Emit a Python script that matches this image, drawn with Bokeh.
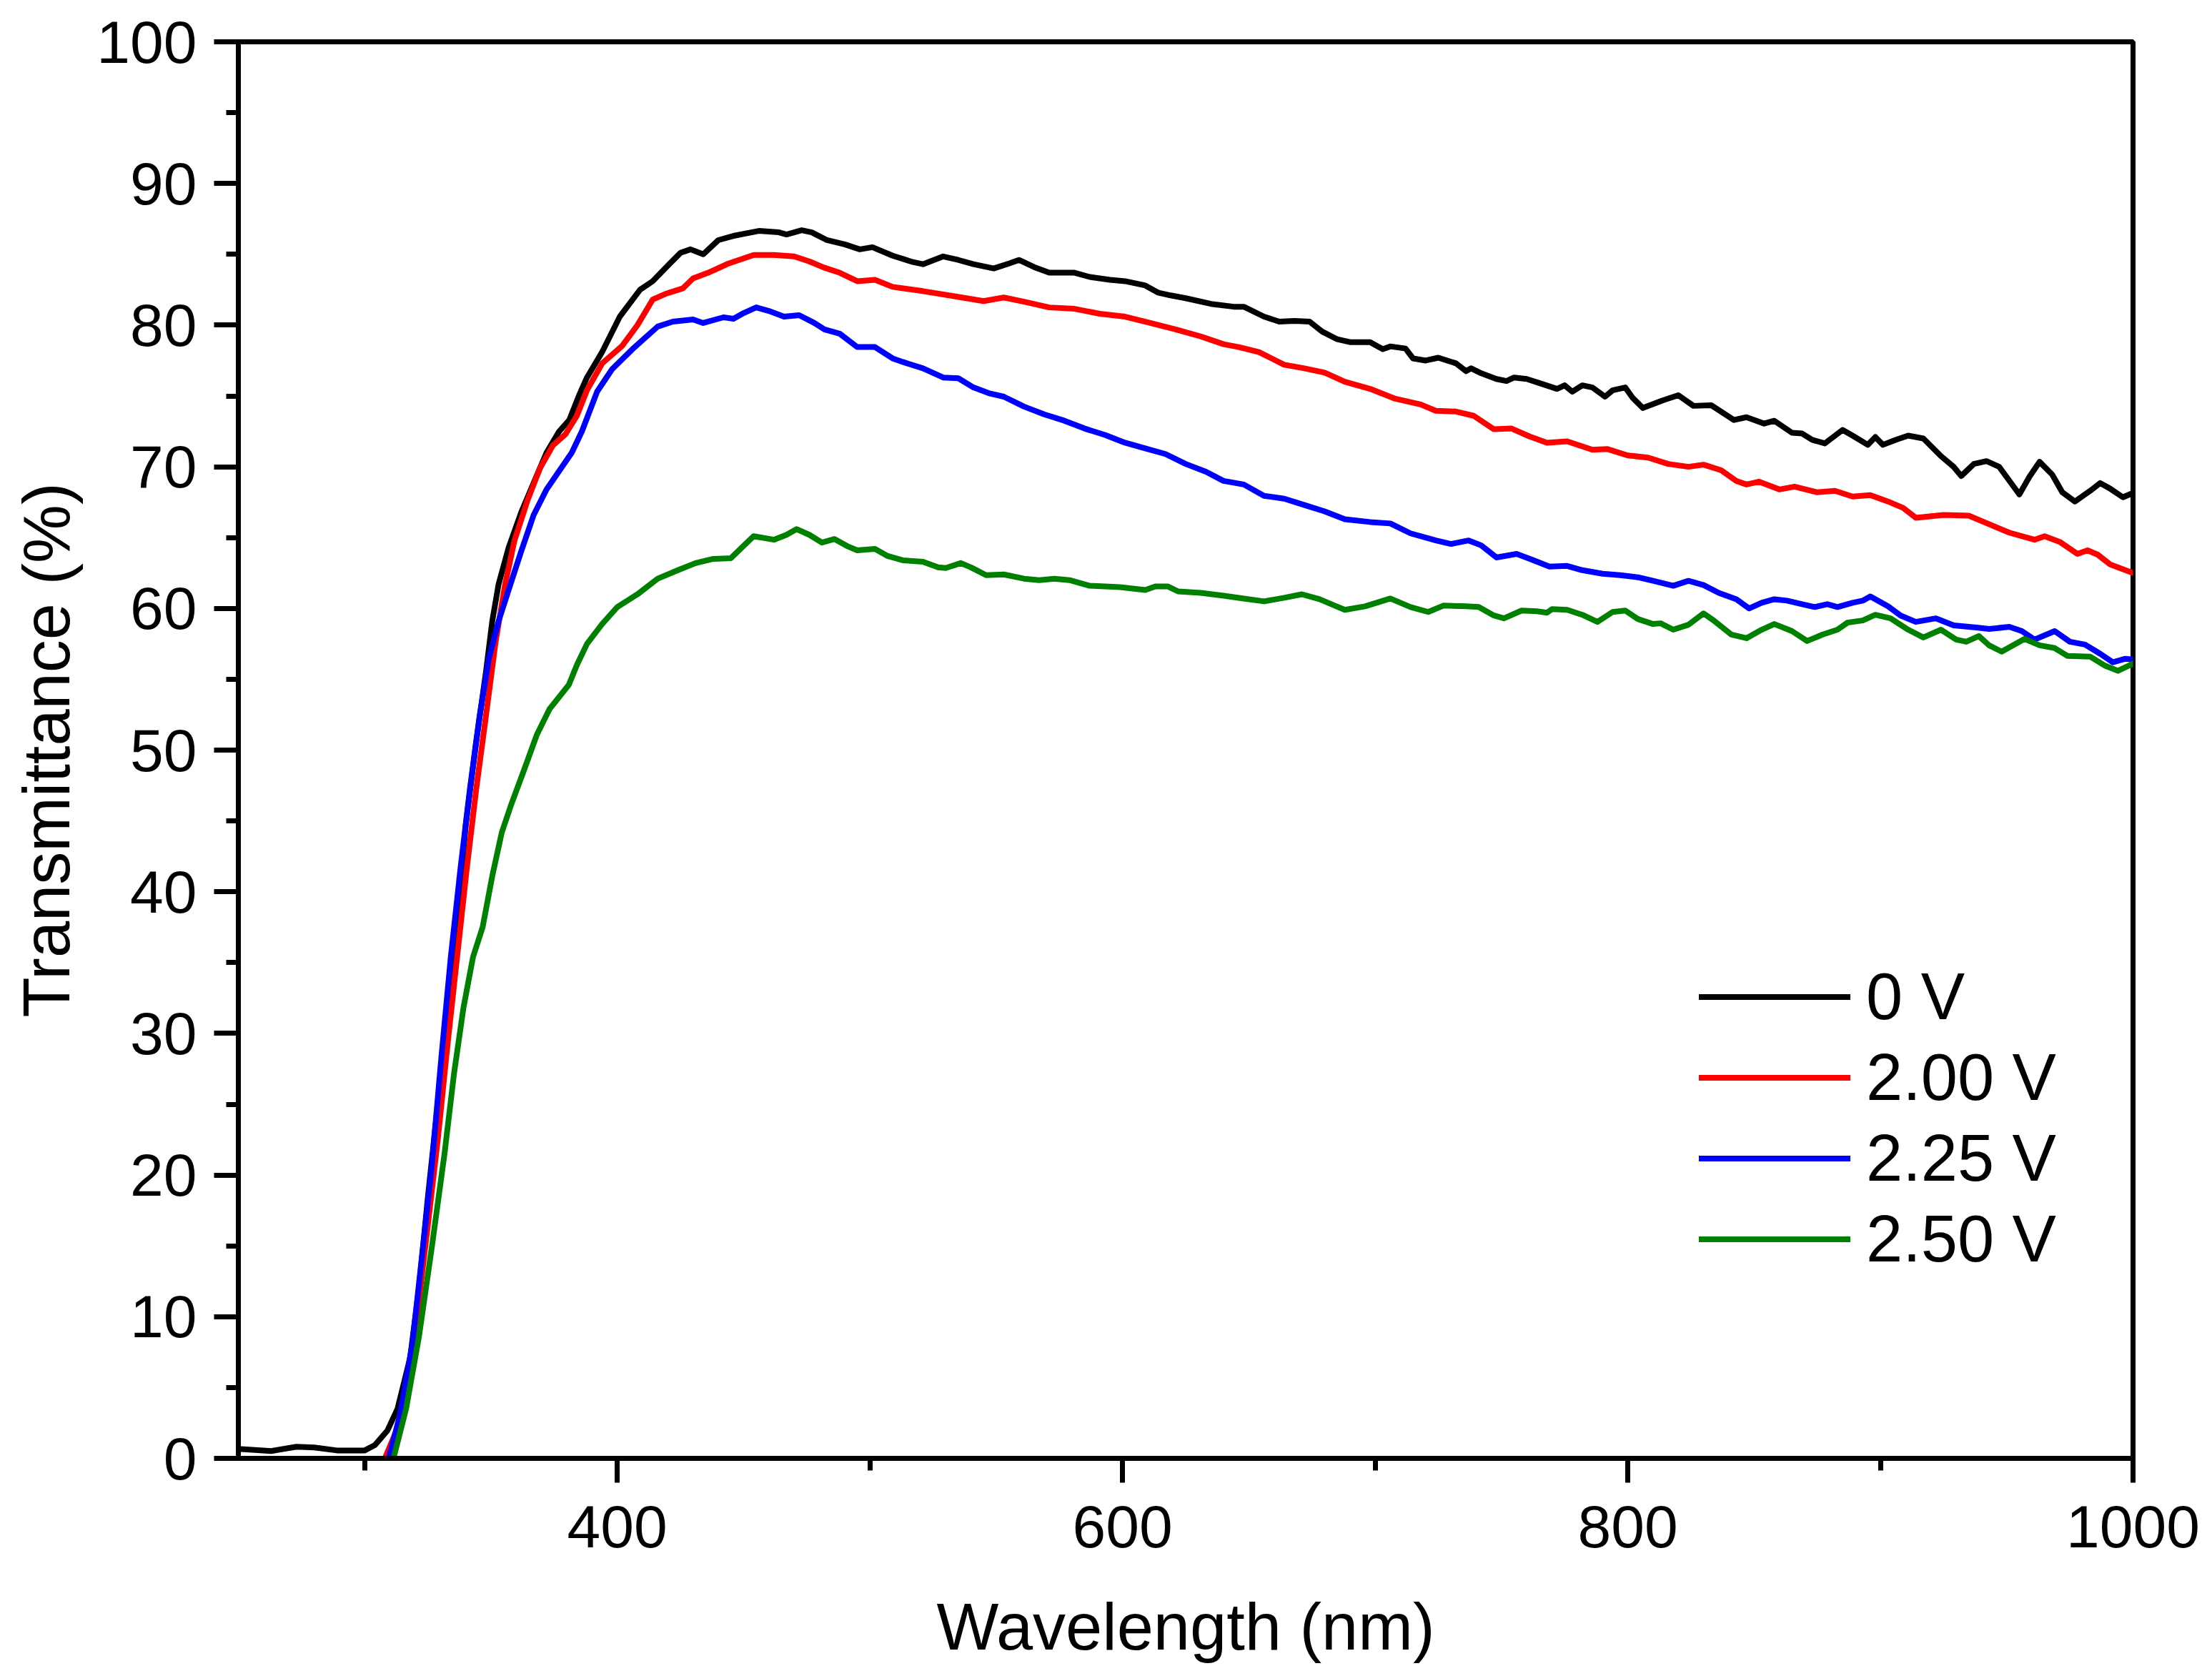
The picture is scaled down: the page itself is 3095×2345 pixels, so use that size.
from bokeh.plotting import figure
from bokeh.models import Range1d, SingleIntervalTicker, Legend, LegendItem, ColumnDataSource
from bokeh.embed import file_html
from bokeh.resources import INLINE

# ---- data (wavelength nm, transmittance %) ----
labels = ["0 V", "2.00 V", "2.25 V", "2.50 V"]
colors = ["#000000", "#FF0000", "#0000FF", "#008000"]

t_0v = [(250, 0.67), (263, 0.52), (273, 0.82), (280, 0.77), (289, 0.56), (300, 0.56), (304, 0.93),
        (309, 1.96), (313, 3.5), (318, 7.1), (321.5, 12.0), (325, 18.4), (329, 25.1), (333, 32.3),
        (337, 38.5), (340, 44.7), (344, 50.4), (348, 55.5), (350.5, 59.1), (353, 61.7), (357, 64.3),
        (362, 66.8), (367, 68.9), (372, 71.0), (377, 72.5), (381, 73.3), (385, 75.1), (388, 76.3),
        (394, 78.1), (401, 80.6), (409, 82.5), (414, 83.1), (420, 84.2), (425, 85.1), (429, 85.35),
        (434, 85.0), (440, 86.0), (446, 86.3), (456, 86.65), (464, 86.55), (467, 86.4), (473, 86.7),
        (477, 86.55), (483, 86.0), (490, 85.7), (496, 85.35), (501, 85.5), (509, 84.9), (517, 84.45),
        (521, 84.3), (529, 84.85), (535, 84.6), (541, 84.3), (549, 84.0), (555, 84.35), (559, 84.6),
        (565, 84.1), (571, 83.7), (581, 83.7), (587, 83.4), (595, 83.2), (601, 83.1), (609, 82.8),
        (614, 82.3), (619, 82.1), (625, 81.9), (635, 81.5), (644, 81.3), (648, 81.3), (656, 80.6),
        (662, 80.25), (668, 80.3), (674, 80.25), (679, 79.55), (685, 79.0), (690, 78.8), (698, 78.8),
        (703, 78.3), (706, 78.5), (712, 78.35), (715, 77.65), (720, 77.5), (725, 77.7), (732, 77.3),
        (736, 76.75), (738, 76.95), (742, 76.6), (748, 76.2), (752, 76.05), (755, 76.3), (760, 76.2),
        (766, 75.85), (772, 75.5), (775, 75.75), (778, 75.3), (782, 75.75), (786, 75.6), (791, 74.95),
        (794, 75.4), (799, 75.6), (802, 74.85), (806, 74.15), (814, 74.7), (820, 75.05), (826, 74.3),
        (833, 74.35), (842, 73.3), (847, 73.5), (854, 73.05), (858, 73.25), (865, 72.4), (869, 72.35),
        (873, 71.9), (878, 71.65), (885, 72.6), (889, 72.2), (895, 71.55), (898, 72.1), (901, 71.55),
        (906, 71.9), (911, 72.2), (917, 72.0), (924, 70.75), (929, 70.0), (932, 69.35), (937, 70.2),
        (942, 70.4), (947, 70.0), (955, 68.05), (959, 69.3), (963, 70.35), (968, 69.45), (972, 68.2),
        (977, 67.55), (983, 68.3), (987, 68.85), (991, 68.45), (996, 67.85), (1000, 68.15)]

t_200v = [(308, 0.0), (312.6, 1.96), (317.7, 6.1), (321.5, 11.2), (325.3, 16.9), (329, 22.6),
          (332.8, 29.2), (336.6, 35.4), (340.4, 41.6), (344.2, 47.3), (348, 52.4), (351.8, 57.6),
          (355.6, 61.7), (359.3, 64.8), (364.4, 67.6), (369.4, 69.9), (374.5, 71.5), (379.5, 72.3),
          (384, 73.6), (388, 75.4), (394, 77.3), (402, 78.55), (408, 80.0), (414, 81.8), (419, 82.2),
          (426, 82.6), (430, 83.3), (436, 83.7), (444, 84.35), (454, 84.95), (462, 84.95), (470, 84.85),
          (476, 84.5), (482, 84.05), (488, 83.7), (495, 83.1), (502, 83.2), (509, 82.7), (521, 82.4),
          (533, 82.05), (545, 81.7), (553, 81.95), (561, 81.65), (571, 81.25), (581, 81.15), (591, 80.8),
          (601, 80.6), (611, 80.15), (621, 79.7), (631, 79.2), (640, 78.65), (646, 78.45), (654, 78.1),
          (664, 77.2), (672, 76.95), (680, 76.65), (688, 76.0), (698, 75.5), (708, 74.8), (718, 74.4),
          (724, 73.95), (732, 73.9), (739, 73.6), (747, 72.65), (754, 72.7), (761, 72.15), (768, 71.7),
          (776, 71.8), (786, 71.2), (792, 71.25), (800, 70.8), (808, 70.65), (816, 70.2), (824, 70.0),
          (830, 70.15), (837, 69.75), (843, 69.0), (847, 68.75), (852, 68.95), (860, 68.4), (866, 68.6),
          (875, 68.2), (882, 68.3), (889, 67.9), (896, 68.0), (903, 67.55), (909, 67.1), (914, 66.4),
          (925, 66.6), (935, 66.55), (943, 65.95), (951, 65.35), (961, 64.85), (965, 65.1), (971, 64.7),
          (978, 63.85), (982, 64.1), (986, 63.8), (991, 63.1), (1000, 62.5)]

t_225v = [(309.5, 0.0), (313.9, 3.0), (318.9, 8.1), (322.7, 14.3), (326.5, 20.5), (330.3, 28.2),
          (334.1, 35.4), (337.9, 41.6), (341.7, 47.3), (345.5, 52.4), (349.2, 56.5), (353, 59.1),
          (356.8, 61.2), (361.9, 64.0), (366.9, 66.6), (372, 68.4), (377, 69.7), (382, 71.0), (386, 72.5),
          (392, 75.3), (398, 76.9), (406, 78.3), (416, 79.9), (422, 80.25), (430, 80.4), (434, 80.15),
          (442, 80.55), (446, 80.45), (450, 80.85), (455, 81.25), (460, 81.0), (466, 80.6), (472, 80.7),
          (478, 80.15), (482, 79.7), (488, 79.4), (495, 78.45), (502, 78.45), (509, 77.65), (513, 77.4),
          (521, 76.95), (529, 76.3), (535, 76.25), (541, 75.6), (547, 75.2), (553, 74.95), (561, 74.25),
          (569, 73.7), (577, 73.25), (585, 72.7), (593, 72.25), (601, 71.7), (609, 71.3), (617, 70.9),
          (625, 70.2), (633, 69.65), (640, 69.0), (648, 68.75), (656, 67.95), (664, 67.75), (672, 67.3),
          (680, 66.85), (688, 66.3), (698, 66.1), (706, 66.0), (714, 65.3), (724, 64.8), (730, 64.55),
          (737, 64.8), (742, 64.45), (748, 63.6), (756, 63.85), (762, 63.45), (769, 62.95), (776, 63.0),
          (782, 62.7), (790, 62.45), (797, 62.35), (804, 62.2), (810, 61.95), (818, 61.6), (824, 61.95),
          (830, 61.65), (836, 61.1), (843, 60.65), (848, 60.0), (853, 60.4), (858, 60.65), (863, 60.55),
          (869, 60.3), (874, 60.1), (879, 60.3), (883, 60.1), (889, 60.4), (893, 60.55), (896, 60.85),
          (903, 60.15), (908, 59.5), (914, 59.05), (922, 59.3), (929, 58.8), (938, 58.65), (943, 58.55),
          (951, 58.7), (956, 58.4), (961, 57.8), (969, 58.4), (975, 57.65), (981, 57.45), (987, 56.8),
          (992, 56.2), (997, 56.45), (1000, 56.4)]

t_250v = [(311.4, 0.0), (316.4, 3.5), (321.5, 8.6), (326.5, 14.8), (331.6, 21.5), (335.4, 27.2),
          (339.1, 31.8), (342.9, 35.4), (346.7, 37.5), (350.5, 41.1), (354.3, 44.2), (358.1, 46.2),
          (363.1, 48.6), (368.2, 51.1), (373.2, 52.9), (380.8, 54.6), (384, 56.0), (388, 57.5),
          (394, 58.9), (400, 60.1), (408, 61.0), (416, 62.1), (424, 62.7), (431, 63.2), (438, 63.5),
          (445, 63.55), (449, 64.25), (454, 65.1), (462, 64.85), (467, 65.2), (471, 65.6), (476, 65.2),
          (481, 64.65), (486, 64.9), (491, 64.4), (495, 64.1), (502, 64.2), (507, 63.7), (513, 63.4),
          (521, 63.3), (527, 62.9), (530, 62.85), (536, 63.2), (540, 62.9), (546, 62.35), (553, 62.4),
          (561, 62.1), (567, 62.0), (573, 62.1), (579, 62.0), (587, 61.6), (599, 61.5), (609, 61.3),
          (613, 61.55), (618, 61.55), (622, 61.2), (631, 61.1), (640, 60.9), (648, 60.7), (656, 60.5),
          (664, 60.75), (671, 61.0), (678, 60.65), (684, 60.2), (688, 59.9), (696, 60.15), (706, 60.7),
          (714, 60.1), (721, 59.75), (727, 60.2), (736, 60.15), (741, 60.1), (747, 59.5), (751, 59.3),
          (758, 59.85), (764, 59.8), (768, 59.7), (770, 59.95), (776, 59.9), (782, 59.55), (788, 59.05),
          (794, 59.75), (799, 59.85), (804, 59.25), (810, 58.9), (813, 58.95), (818, 58.5), (824, 58.85),
          (830, 59.65), (834, 59.15), (841, 58.15), (847, 57.9), (853, 58.5), (858, 58.9), (865, 58.4),
          (871, 57.7), (877, 58.15), (883, 58.5), (887, 59.0), (893, 59.15), (898, 59.55), (904, 59.3),
          (911, 58.5), (917, 57.95), (924, 58.5), (930, 57.8), (934, 57.65), (939, 58.05), (943, 57.4),
          (948, 56.95), (957, 57.85), (963, 57.4), (969, 57.2), (974, 56.65), (983, 56.6), (989, 55.95),
          (994, 55.6), (1000, 56.1)]

series = [t_0v, t_200v, t_225v, t_250v]

FONT = "Liberation Sans"

p = figure(width=3079, height=2329, output_backend="svg", toolbar_location=None,
           x_range=Range1d(250, 1000), y_range=Range1d(0, 100),
           min_border_left=333, min_border_right=95, min_border_top=58, min_border_bottom=289)

p.xgrid.visible = False
p.ygrid.visible = False
p.outline_line_color = "black"
p.outline_line_width = 7
p.background_fill_color = "white"
p.border_fill_color = "white"

p.xaxis.ticker = SingleIntervalTicker(interval=200, num_minor_ticks=2)
p.yaxis.ticker = SingleIntervalTicker(interval=10, num_minor_ticks=2)

for ax in (p.xaxis[0], p.yaxis[0]):
    ax.axis_line_width = 7
    ax.axis_line_color = "black"
    ax.major_tick_line_width = 7
    ax.minor_tick_line_width = 7
    ax.major_tick_line_color = "black"
    ax.minor_tick_line_color = "black"
    ax.major_tick_out = 34
    ax.major_tick_in = 0
    ax.minor_tick_out = 17
    ax.minor_tick_in = 0
    ax.major_label_text_font = FONT
    ax.major_label_text_font_size = "84px"
    ax.major_label_text_color = "black"
    ax.axis_label_text_font = FONT
    ax.axis_label_text_font_size = "92px"
    ax.axis_label_text_font_style = "normal"
    ax.axis_label_text_color = "black"

p.xaxis.axis_label = "Wavelength (nm)"
p.yaxis.axis_label = "Transmittance (%)"
p.xaxis.major_label_standoff = 32
p.yaxis.major_label_standoff = 24
p.xaxis.axis_label_standoff = 57
p.yaxis.axis_label_standoff = 16

items = []
for data, lab, col in zip(series, labels, colors):
    src = ColumnDataSource(dict(x=[d[0] for d in data], y=[d[1] for d in data]))
    r = p.line("x", "y", source=src, line_color=col, line_width=8,
               line_join="round", line_cap="round")
    items.append(LegendItem(label=lab, renderers=[r]))

legend = Legend(items=items, location=(2044, 250), glyph_width=212, glyph_height=113,
                label_height=113, spacing=0, padding=0, margin=0,
                border_line_alpha=0, background_fill_alpha=0,
                label_text_font=FONT, label_text_font_size="92px", label_text_color="black",
                label_standoff=22)
p.add_layout(legend)

open("out.html", "w").write(file_html(p, INLINE))
